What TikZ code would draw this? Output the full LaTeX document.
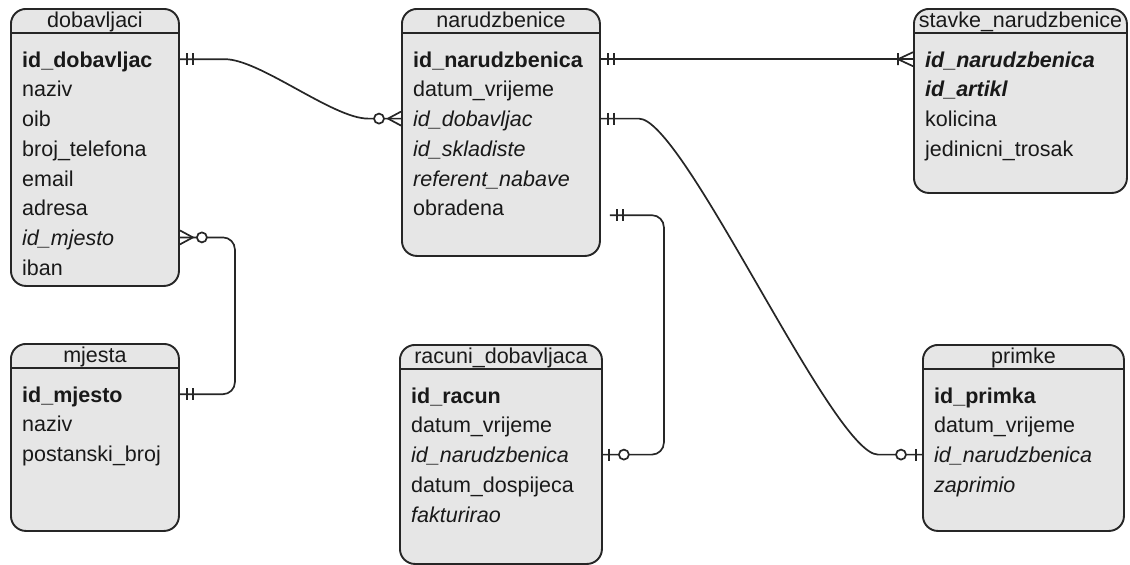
\documentclass[tikz,border=0pt]{standalone}
\usepackage{fontspec}
\setmainfont{Liberation Sans}
\usetikzlibrary{calc}
\definecolor{tablegray}{RGB}{230,230,230}
\tikzset{
  tablebox/.style={draw=black!85, fill=tablegray, rounded corners=15pt, line width=1.9pt, anchor=north west, inner sep=0pt},
  tabletitle/.style={font=\fontsize{21.5}{24}\selectfont, text=black!90, anchor=base, inner sep=0pt},
  field/.style={font=\fontsize{21.5}{24}\selectfont, text=black!90, anchor=north west, inner sep=0pt, text height=22.65pt, text depth=6.65pt},
  key/.style={field, font=\fontsize{21.5}{24}\selectfont\bfseries},
  fkey/.style={field, font=\fontsize{21.5}{24}\selectfont\itshape},
  pkfk/.style={field, font=\fontsize{21.5}{24}\selectfont\bfseries\itshape},
  divider/.style={line width=1.9pt, draw=black!85},
  relation/.style={line width=1.7pt, draw=black!85},
  mandone/.pic={\draw[relation] (7,-6) -- (7,6) (13,-6) -- (13,6);},
  zeromany/.pic={\draw[relation] (0,-7) -- (13,0) -- (0,7); \draw[relation, fill=white] (22,0) circle[radius=5pt];},
  onemany/.pic={\draw[relation] (0,-7) -- (15,0) -- (0,7) (15,-6) -- (15,6);},
  zeroone/.pic={\draw[relation] (6,-6) -- (6,6); \draw[relation, fill=white] (21,0) circle[radius=5pt];},
}
\begin{document}
\begin{tikzpicture}[x=1pt, y=-1pt]
\useasboundingbox (0,0) rectangle (1130,565);

\node (dob) [tablebox, minimum width=168pt, minimum height=277pt] at (10,8) {};
\node (mje) [tablebox, minimum width=168pt, minimum height=187pt] at (10,343) {};
\node (nar) [tablebox, minimum width=198pt, minimum height=247pt] at (401,8) {};
\node (rac) [tablebox, minimum width=202pt, minimum height=219pt] at (399,344) {};
\node (sta) [tablebox, minimum width=213pt, minimum height=184pt] at (913,8) {};
\node (pri) [tablebox, minimum width=201pt, minimum height=186pt] at (922,344) {};

\draw[divider] ([yshift=-25pt]dob.north west) -- ([yshift=-25pt]dob.north east);
\draw[divider] ([yshift=-25pt]mje.north west) -- ([yshift=-25pt]mje.north east);
\draw[divider] ([yshift=-25pt]nar.north west) -- ([yshift=-25pt]nar.north east);
\draw[divider] ([yshift=-25pt]rac.north west) -- ([yshift=-25pt]rac.north east);
\draw[divider] ([yshift=-25pt]sta.north west) -- ([yshift=-25pt]sta.north east);
\draw[divider] ([yshift=-25pt]pri.north west) -- ([yshift=-25pt]pri.north east);

\node (dob-t) [tabletitle] at ([yshift=-19.5pt]dob.north) {dobavljaci};
\node (mje-t) [tabletitle] at ([yshift=-19.5pt]mje.north) {mjesta};
\node (nar-t) [tabletitle] at ([yshift=-19.5pt]nar.north) {narudzbenice};
\node (rac-t) [tabletitle] at ([yshift=-19.5pt]rac.north) {racuni\_dobavljaca};
\node (sta-t) [tabletitle] at ([yshift=-19.5pt]sta.north) {stavke\_narudzbenice};
\node (pri-t) [tabletitle] at ([yshift=-19.5pt]pri.north) {primke};

\node (d1) [key] at ([shift={(12,36.35)}]dob.north west) {id\_dobavljac};
\node (d2) [field] at (d1.south west) {naziv};
\node (d3) [field] at (d2.south west) {oib};
\node (d4) [field] at (d3.south west) {broj\_telefona};
\node (d5) [field] at (d4.south west) {email};
\node (d6) [field] at (d5.south west) {adresa};
\node (d7) [fkey] at (d6.south west) {id\_mjesto};
\node (d8) [field] at (d7.south west) {iban};

\node (m1) [key] at ([shift={(12,36.35)}]mje.north west) {id\_mjesto};
\node (m2) [field] at (m1.south west) {naziv};
\node (m3) [field] at (m2.south west) {postanski\_broj};

\node (n1) [key] at ([shift={(12,36.35)}]nar.north west) {id\_narudzbenica};
\node (n2) [field] at (n1.south west) {datum\_vrijeme};
\node (n3) [fkey] at (n2.south west) {id\_dobavljac};
\node (n4) [fkey] at (n3.south west) {id\_skladiste};
\node (n5) [fkey] at (n4.south west) {referent\_nabave};
\node (n6) [field] at (n5.south west) {obradena};

\node (r1) [key] at ([shift={(12,36.35)}]rac.north west) {id\_racun};
\node (r2) [field] at (r1.south west) {datum\_vrijeme};
\node (r3) [fkey] at (r2.south west) {id\_narudzbenica};
\node (r4) [field] at (r3.south west) {datum\_dospijeca};
\node (r5) [fkey] at (r4.south west) {fakturirao};

\node (s1) [pkfk] at ([shift={(12,36.35)}]sta.north west) {id\_narudzbenica};
\node (s2) [pkfk] at (s1.south west) {id\_artikl};
\node (s3) [field] at (s2.south west) {kolicina};
\node (s4) [field] at (s3.south west) {jedinicni\_trosak};

\node (p1) [key] at ([shift={(12,36.35)}]pri.north west) {id\_primka};
\node (p2) [field] at (p1.south west) {datum\_vrijeme};
\node (p3) [fkey] at (p2.south west) {id\_narudzbenica};
\node (p4) [fkey] at (p3.south west) {zaprimio};

\coordinate (k1) at ($(d1 -| dob.east)+(45,0)$);
\coordinate (k2) at ($(n3 -| nar.west)+(-33,0)$);
\coordinate (k3) at ($(n3 -| nar.east)+(38,0)$);
\coordinate (k4) at ($(p3 -| pri.west)+(-44,0)$);
\coordinate (k5) at ($(n6 -| nar.east)+(9,7.5)$);

\draw[relation] (d1 -| dob.east) -- (k1) .. controls +(35,0) and +(-35,0) .. (k2) -- (n3 -| nar.west);
\draw[relation, rounded corners=12pt] (d7 -| dob.east) -- ++(55,0) |- (m1 -| mje.east);
\draw[relation] (n1 -| nar.east) -- (s1 -| sta.west);
\draw[relation] (n3 -| nar.east) -- (k3) .. controls +(45,0) and +(-45,0) .. (k4) -- (p3 -| pri.west);
\draw[relation, rounded corners=12pt] (k5) -- ++(54,0) |- (r3 -| rac.east);

\pic at (d1 -| dob.east) {mandone};
\pic[rotate=180] at (n3 -| nar.west) {zeromany};
\pic at (d7 -| dob.east) {zeromany};
\pic at (m1 -| mje.east) {mandone};
\pic at (n1 -| nar.east) {mandone};
\pic[rotate=180] at (s1 -| sta.west) {onemany};
\pic at (n3 -| nar.east) {mandone};
\pic[rotate=180] at (p3 -| pri.west) {zeroone};
\pic at (k5) {mandone};
\pic at (r3 -| rac.east) {zeroone};
\end{tikzpicture}
\end{document}
